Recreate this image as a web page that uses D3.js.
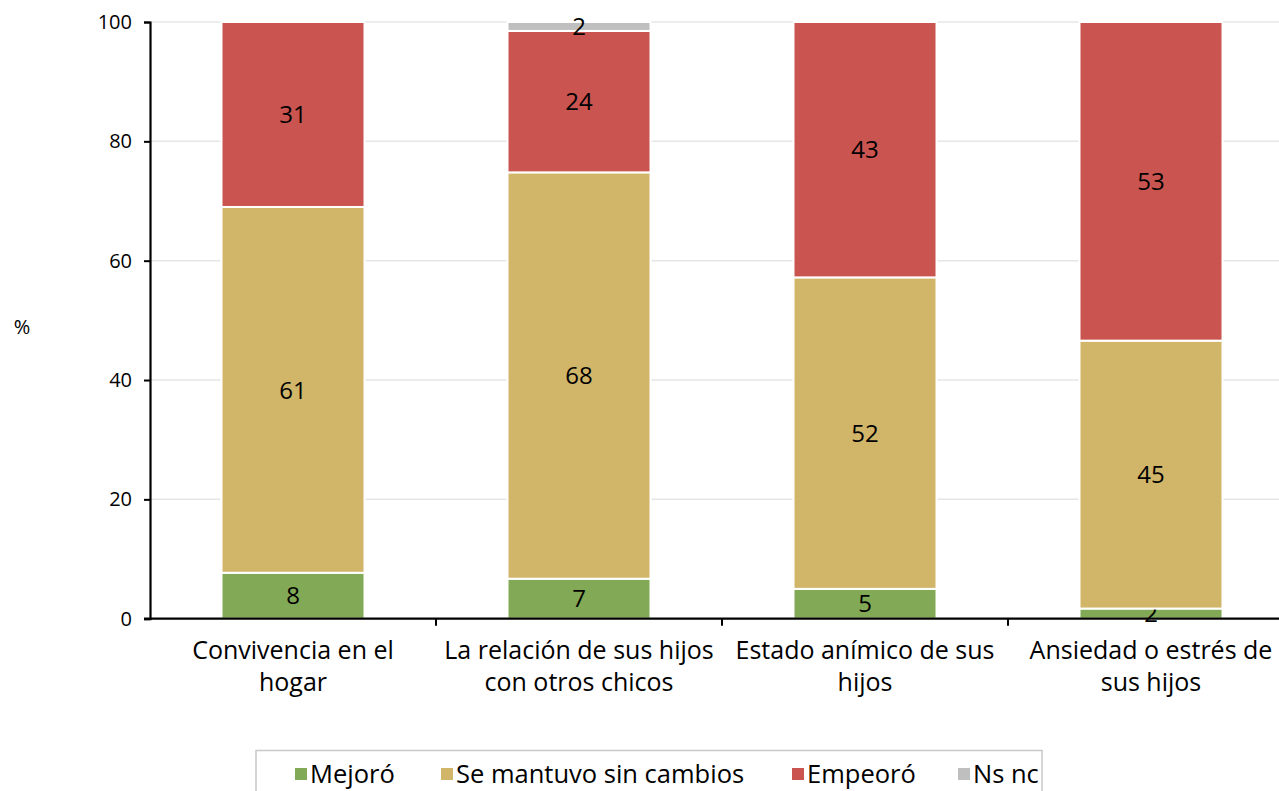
<!DOCTYPE html>
<html>
<head>
<meta charset="utf-8">
<script src="https://cdn.jsdelivr.net/npm/d3@7"></script>
<style>
    body { margin: 0; background: #fff; }
    svg { display: block; font-family: "Open Sans", "Noto Sans", sans-serif; }
</style>
</head>
<body>
<svg class="graph"></svg>
<script>
// categorías (con sus saltos de línea tal como aparecen)
const categories = [
    "Convivencia en el hogar",
    "La relación de sus hijos con otros chicos",
    "Estado anímico de sus hijos",
    "Ansiedad o estrés de sus hijos"
];
const categoryLines = [
    ["Convivencia en el", "hogar"],
    ["La relación de sus hijos", "con otros chicos"],
    ["Estado anímico de sus", "hijos"],
    ["Ansiedad o estrés de", "sus hijos"]
];

const seriesNames = ["Mejoró", "Se mantuvo sin cambios", "Empeoró", "Ns nc"];
const seriesColors = ["#82a955", "#d1b66a", "#ca5450", "#bfbfbf"];

// valores (%)
const mejoro = [7.7, 6.7, 5.0, 1.7];
const semantuvo = [61.3, 68.1, 52.2, 44.9];
const empeoro = [31.0, 23.7, 42.8, 53.4];
const nsnc = [0, 1.5, 0, 0];

const yTicks = [0, 20, 40, 60, 80, 100];

const width = 1279, height = 791;
const margin = {left: 150, top: 22, bottom: 172};

const svg = d3.select(".graph")
    .attr("width", width)
    .attr("height", height);

const x = d3.scaleBand()
    .domain(categories)
    .range([margin.left, margin.left + 286 * 4])
    .paddingInner(0.5)
    .paddingOuter(0.25);

const y = d3.scaleLinear()
    .domain([0, 100])
    .range([height - margin.bottom - 0.3, margin.top]);

// rejilla
svg.append("g")
    .selectAll("line")
    .data(yTicks.filter(d => d > 0))
    .join("line")
    .attr("x1", margin.left)
    .attr("x2", width)
    .attr("y1", d => y(d))
    .attr("y2", d => y(d))
    .attr("stroke", "#e6e6e6")
    .attr("stroke-width", 1.5);

// apilado
const rows = categories.map((c, i) => ({
    cat: c,
    "Mejoró": mejoro[i],
    "Se mantuvo sin cambios": semantuvo[i],
    "Empeoró": empeoro[i],
    "Ns nc": nsnc[i]
}));
const stacked = d3.stack().keys(seriesNames)(rows);

const layers = svg.append("g")
    .selectAll("g")
    .data(stacked)
    .join("g")
    .attr("fill", (d, i) => seriesColors[i]);

layers.selectAll("rect")
    .data(d => d.filter(s => s[1] - s[0] > 0))
    .join("rect")
    .attr("x", d => x(d.data.cat))
    .attr("width", x.bandwidth())
    .attr("y", d => y(d[1]))
    .attr("height", d => y(d[0]) - y(d[1]))
    .attr("stroke", "#fff")
    .attr("stroke-width", 2);

layers.selectAll("text")
    .data(d => d.filter(s => s[1] - s[0] > 0))
    .join("text")
    .attr("x", d => x(d.data.cat) + x.bandwidth() / 2)
    .attr("y", d => (y(d[0]) + y(d[1])) / 2)
    .attr("dy", "0.36em")
    .attr("text-anchor", "middle")
    .attr("fill", "#000")
    .attr("font-size", 24)
    .text(d => Math.round(d[1] - d[0]));

// eje y
const yAxis = svg.append("g")
    .attr("transform", `translate(${margin.left},0)`)
    .call(d3.axisLeft(y).tickValues(yTicks).tickSize(6).tickPadding(12));
yAxis.select(".domain").attr("stroke", "#000").attr("stroke-width", 2.2);
yAxis.selectAll(".tick line").attr("stroke", "#000").attr("stroke-width", 2);
yAxis.selectAll(".tick text")
    .attr("font-size", 20)
    .attr("font-family", "Open Sans, sans-serif")
    .attr("fill", "#000");

// eje x
const x0 = y(0);
svg.append("line")
    .attr("x1", margin.left - 6)
    .attr("x2", width)
    .attr("y1", x0)
    .attr("y2", x0)
    .attr("stroke", "#000")
    .attr("stroke-width", 2.2);

svg.append("g")
    .selectAll("line")
    .data(categories.slice(1))
    .join("line")
    .attr("x1", d => x(d) - x.step() * 0.25)
    .attr("x2", d => x(d) - x.step() * 0.25)
    .attr("y1", x0)
    .attr("y2", x0 + 7)
    .attr("stroke", "#000")
    .attr("stroke-width", 2);

const catLabels = svg.append("g")
    .selectAll("text")
    .data(categories)
    .join("text")
    .attr("text-anchor", "middle")
    .attr("font-size", 25)
    .attr("fill", "#000")
    .attr("transform", d => `translate(${x(d) + x.bandwidth() / 2},0)`);

catLabels.selectAll("tspan")
    .data((d, i) => categoryLines[i])
    .join("tspan")
    .attr("x", 0)
    .attr("y", (d, j) => 659 + j * 32)
    .text(d => d);

// etiqueta %
svg.append("text")
    .attr("x", 22)
    .attr("y", 334)
    .attr("text-anchor", "middle")
    .attr("font-size", 20)
    .text("%");

// leyenda
svg.append("rect")
    .attr("x", 256)
    .attr("y", 750.5)
    .attr("width", 786)
    .attr("height", 60)
    .attr("fill", "#fff")
    .attr("stroke", "#c8c8c8")
    .attr("stroke-width", 1.5);

const legendX = [295, 441, 792, 958];
const legend = svg.append("g")
    .selectAll("g")
    .data(seriesNames)
    .join("g")
    .attr("transform", (d, i) => `translate(${legendX[i]},768)`);

legend.append("rect")
    .attr("width", 12)
    .attr("height", 12)
    .attr("fill", (d, i) => seriesColors[i]);

legend.append("text")
    .attr("x", 15)
    .attr("y", 6)
    .attr("dy", "0.36em")
    .attr("font-size", 25.5)
    .text(d => d);
</script>
</body>
</html>
